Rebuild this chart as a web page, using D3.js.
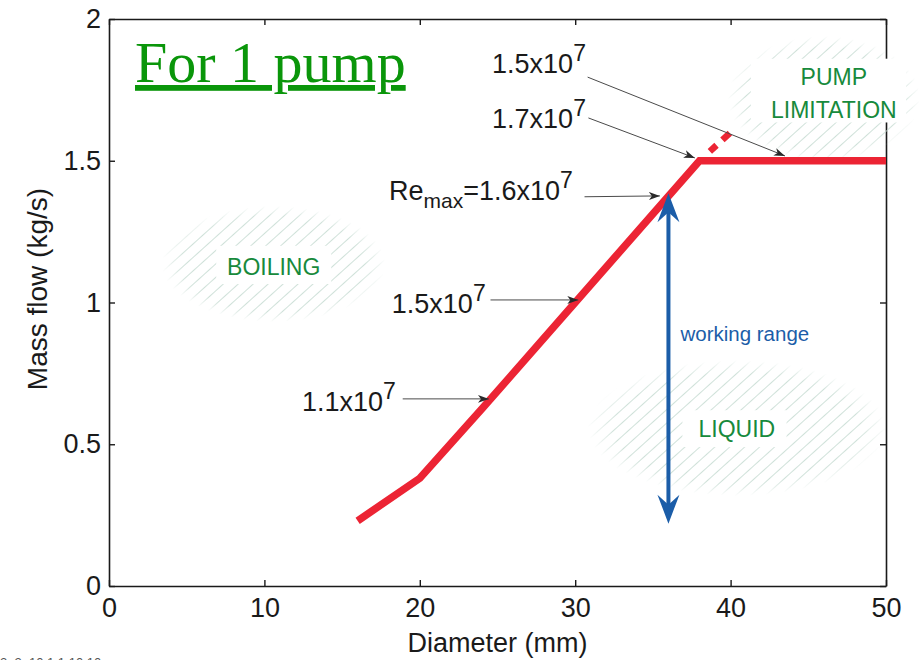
<!DOCTYPE html>
<html>
<head>
<meta charset="utf-8">
<script src="https://cdn.jsdelivr.net/npm/d3@7"></script>
<style>
  html, body { margin: 0; padding: 0; background: #fff; }
  svg { display: block; }
</style>
</head>
<body>
<svg id="chart" width="919" height="660"></svg>
<script>
// ---------------- DATA ----------------
const diameter = [16, 20, 24, 30, 38, 50];          // mm
const massFlow = [0.23, 0.38, 0.625, 1.0, 1.5, 1.5]; // kg/s
const extDiameter = [38, 40.2];                      // dashed extension
const extFlow = [1.5, 1.61];
const xTicks = [0, 10, 20, 30, 40, 50];
const yTicks = [0, 0.5, 1, 1.5, 2];
const yTickLabels = ["0", "0.5", "1", "1.5", "2"];
const workingRange = [1.385, 0.22];                  // at diameter 36
const workingDiameter = 36;
const reLabels = ["1.5x10", "1.7x10", "=1.6x10", "1.5x10", "1.1x10"];
const reExponent = "7";
const reTargetsX = [43.5, 37.7, 35.45, 30.2, 24.45];
const reTargetsY = [1.517, 1.51, 1.376, 1.009, 0.66];
const regionNames = ["BOILING", "LIQUID", "PUMP|LIMITATION"];

// ---------------- SETUP ----------------
const svg = d3.select("#chart");
const x = d3.scaleLinear().domain([0, 50]).range([109, 886]);
const y = d3.scaleLinear().domain([0, 2]).range([586, 19]);
const FONT = "'Liberation Sans', Arial, Helvetica, sans-serif";
const defs = svg.append("defs");

// hatch pattern
const pat = defs.append("pattern")
  .attr("id", "hatch").attr("patternUnits", "userSpaceOnUse")
  .attr("width", 10).attr("height", 10)
  .attr("patternTransform", "rotate(48)");
pat.append("line").attr("x1", 0).attr("y1", 0).attr("x2", 0).attr("y2", 10)
  .attr("stroke", "#c6dcd2").attr("stroke-width", 1.7);

const rg = defs.append("radialGradient").attr("id", "fade");
rg.append("stop").attr("offset", "0%").attr("stop-color", "#fff");
rg.append("stop").attr("offset", "82%").attr("stop-color", "#fff");
rg.append("stop").attr("offset", "100%").attr("stop-color", "#000");

// arrow marker
defs.append("marker").attr("id", "ah").attr("viewBox", "0 -5 12 10")
  .attr("refX", 11).attr("refY", 0).attr("markerUnits", "userSpaceOnUse")
  .attr("markerWidth", 12).attr("markerHeight", 10).attr("orient", "auto")
  .append("path").attr("d", "M0,-4 L11,0 L0,4 L3,0 Z").attr("fill", "#2a2a2a");

// ---------------- AXES ----------------
const axG = svg.append("g").attr("font-family", FONT);
const axBottom = axG.append("g").attr("transform", `translate(0,${y(0)})`)
  .call(d3.axisBottom(x).tickValues(xTicks).tickSizeInner(-6).tickSizeOuter(0)
    .tickPadding(12).tickFormat(d3.format("d")));
const axLeft = axG.append("g").attr("transform", `translate(${x(0)},0)`)
  .call(d3.axisLeft(y).tickValues(yTicks).tickSizeInner(-6).tickSizeOuter(0)
    .tickPadding(8).tickFormat((d, i) => yTickLabels[i]));
const axTop = axG.append("g").attr("transform", `translate(0,${y(2)})`)
  .call(d3.axisTop(x).tickValues(xTicks).tickSizeInner(-6).tickSizeOuter(0).tickFormat(""));
const axRight = axG.append("g").attr("transform", `translate(${x(50)},0)`)
  .call(d3.axisRight(y).tickValues(yTicks).tickSizeInner(-6).tickSizeOuter(0).tickFormat(""));
[axBottom, axLeft, axTop, axRight].forEach(g => {
  g.select(".domain").attr("stroke", "#1a1a1a").attr("stroke-width", 1.6);
  g.selectAll(".tick line").attr("stroke", "#1a1a1a").attr("stroke-width", 1.4);
  g.selectAll("text").attr("font-size", 27).attr("fill", "#1a1a1a").attr("font-family", FONT);
});

axG.append("text").attr("x", (x(0) + x(50)) / 2 + 0).attr("y", 652)
  .attr("text-anchor", "middle").attr("font-size", 27).attr("fill", "#1a1a1a")
  .text("Diameter (mm)");
axG.append("text").attr("transform", `translate(47,${289}) rotate(-90)`)
  .attr("text-anchor", "middle").attr("font-size", 28).attr("fill", "#1a1a1a")
  .text("Mass flow (kg/s)");

// ---------------- REGIONS ----------------
const regions = [
  { cx: 10.6, cy: 1.136, rx: 7.2, ry: 0.205, box: [6.9, 1.2, 14.3, 1.065], ty: 275 },
  { cx: 40.4, cy: 0.557, rx: 9.6, ry: 0.24, box: [36.9, 0.62, 43.6, 0.49], ty: 437 },
  { cx: 46.0, cy: 1.72, rx: 6.2, ry: 0.22, box: [41.3, 1.86, 51.3, 1.635], ty: 85 }
];
const regG = svg.append("g");
regions.forEach((r, i) => {
  const mid = `m${i}`;
  const m = defs.append("mask").attr("id", mid);
  m.append("ellipse").attr("cx", x(r.cx)).attr("cy", y(r.cy))
    .attr("rx", x(r.rx) - x(0)).attr("ry", y(0) - y(r.ry)).attr("fill", "url(#fade)");
  regG.append("ellipse").attr("cx", x(r.cx)).attr("cy", y(r.cy))
    .attr("rx", x(r.rx) - x(0)).attr("ry", y(0) - y(r.ry))
    .attr("fill", "url(#hatch)").attr("mask", `url(#${mid})`);
  regG.append("rect").attr("x", x(r.box[0])).attr("y", y(r.box[1]))
    .attr("width", x(r.box[2]) - x(r.box[0])).attr("height", y(r.box[3]) - y(r.box[1]))
    .attr("fill", "#fff");
  const lines = regionNames[i].split("|");
  const tx = x(r.cx) + (i === 2 ? 10 : 0);
  const t = regG.append("text").attr("x", tx).attr("y", r.ty)
    .attr("text-anchor", "middle").attr("font-family", FONT).attr("font-size", 23)
    .attr("fill", "#178a3c");
  lines.forEach((s, j) => t.append("tspan").attr("x", tx)
    .attr("dy", j === 0 ? 0 : 33).text(s));
});

// ---------------- RED CURVE ----------------
const pts = diameter.map((d, i) => [d, massFlow[i]]);
const line = d3.line().x(d => x(d[0])).y(d => y(d[1]));
svg.append("path").datum(pts).attr("d", line)
  .attr("fill", "none").attr("stroke", "#ec2434").attr("stroke-width", 7.5)
  .attr("stroke-linejoin", "miter");
svg.append("path").datum(extDiameter.map((d, i) => [d, extFlow[i]])).attr("d", line)
  .attr("fill", "none").attr("stroke", "#ec2434").attr("stroke-width", 6.5)
  .attr("stroke-dasharray", "0 14 9 8 10 100");

// ---------------- WORKING RANGE ARROW ----------------
const bx = x(workingDiameter), yt = y(workingRange[0]), yb = y(workingRange[1]);
const blue = "#1b5da8";
svg.append("line").attr("x1", bx).attr("x2", bx).attr("y1", yt + 15).attr("y2", yb - 15)
  .attr("stroke", blue).attr("stroke-width", 4);
svg.append("path").attr("fill", blue)
  .attr("d", `M${bx},${yt} L${bx + 11},${yt + 29} L${bx},${yt + 19} L${bx - 11},${yt + 29} Z`);
svg.append("path").attr("fill", blue)
  .attr("d", `M${bx},${yb} L${bx + 11},${yb - 29} L${bx},${yb - 19} L${bx - 11},${yb - 29} Z`);
svg.append("text").attr("x", bx + 12).attr("y", 341).attr("font-family", FONT)
  .attr("font-size", 20.5).attr("fill", blue).text("working range");

// ---------------- RE ANNOTATIONS ----------------
const labelPos = [[24.65, 1.81], [24.65, 1.617], [18.02, 1.36], [18.2, 0.963], [12.42, 0.617]];
const arrowFrom = [[30.8, 1.795], [30.85, 1.651], [30.6, 1.373], [24.55, 1.009], [18.9, 0.66]];
const annG = svg.append("g").attr("font-family", FONT).attr("fill", "#1a1a1a");
reLabels.forEach((lab, i) => {
  const t = annG.append("text").attr("x", x(labelPos[i][0])).attr("y", y(labelPos[i][1]))
    .attr("font-size", 27);
  if (i === 2) {
    t.append("tspan").text("Re");
    t.append("tspan").attr("dy", 8).attr("font-size", 21).text("max");
    t.append("tspan").attr("dy", -8).text(lab);
  } else {
    t.append("tspan").text(lab);
  }
  t.append("tspan").attr("dy", -12).attr("font-size", 23).text(reExponent);
  annG.append("line")
    .attr("x1", x(arrowFrom[i][0])).attr("y1", y(arrowFrom[i][1]))
    .attr("x2", x(reTargetsX[i])).attr("y2", y(reTargetsY[i]))
    .attr("stroke", "#4a4a4a").attr("stroke-width", 1).attr("marker-end", "url(#ah)");
});

// ---------------- TITLE ----------------
svg.append("text").attr("x", 135).attr("y", 82)
  .attr("font-family", "'Liberation Serif', 'Times New Roman', serif")
  .attr("font-size", 58).attr("fill", "#0a960a")
  .attr("text-decoration", "underline").text("For 1 pump");

// footer (cut off at the bottom edge, as in the reference)
svg.append("text").attr("x", 0).attr("y", 667).attr("font-family", FONT)
  .attr("font-size", 13).attr("fill", "#555").text("2. 2.  10.1.1.10.10");
</script>
</body>
</html>
